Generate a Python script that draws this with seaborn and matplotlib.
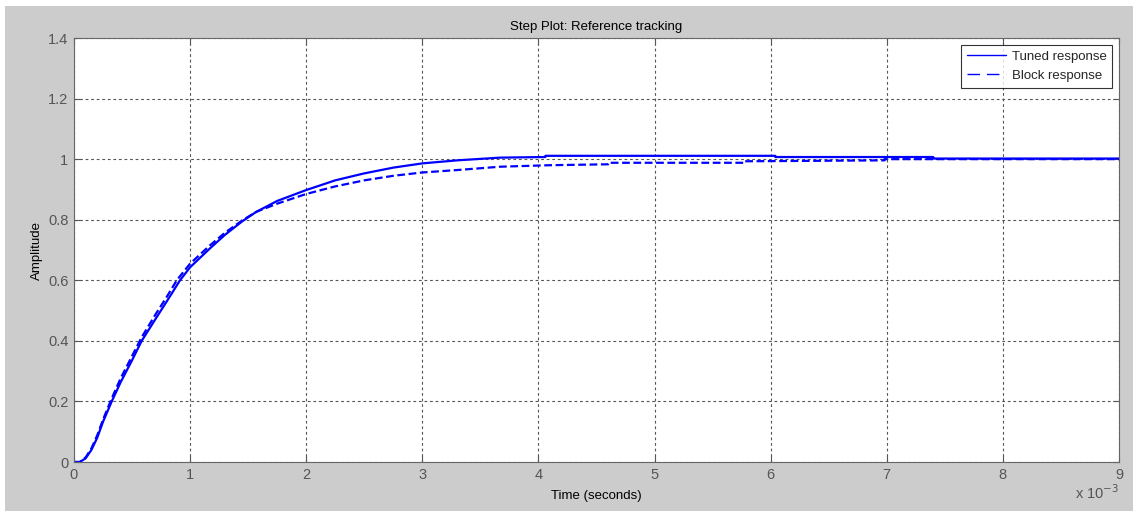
import pandas as pd
import matplotlib.pyplot as plt
import seaborn as sns
from matplotlib.patches import Rectangle

# time in units of 1e-3 s
tuned_t = [0, 0.05, 0.1, 0.15, 0.2, 0.25, 0.325, 0.4, 0.5, 0.583, 0.7, 0.8, 0.913, 1.0,
           1.17, 1.3, 1.45, 1.57, 1.75, 2.0, 2.25, 2.5, 2.75, 3.0, 3.3, 3.67, 4.06, 4.06,
           6.04, 6.04, 7.4, 7.4, 9.0]
tuned_y = [0, 0.0, 0.012, 0.04, 0.08, 0.133, 0.2, 0.262, 0.336, 0.4, 0.471, 0.531, 0.6, 0.643,
           0.705, 0.75, 0.795, 0.826, 0.862, 0.898, 0.93, 0.953, 0.972, 0.986, 0.996, 1.005, 1.007, 1.011,
           1.011, 1.007, 1.007, 1.002, 1.002]

block_t = [0, 0.05, 0.1, 0.15, 0.2, 0.25, 0.325, 0.4, 0.5, 0.583, 0.7, 0.8, 0.885, 1.0,
           1.17, 1.3, 1.45, 1.57, 1.75, 2.0, 2.25, 2.5, 2.75, 3.0, 3.3, 3.67, 4.1, 4.6, 4.6,
           5.78, 5.78, 6.98, 6.98, 9.0]
block_y = [0, 0.0, 0.015, 0.045, 0.088, 0.14, 0.21, 0.275, 0.35, 0.412, 0.486, 0.546, 0.6, 0.655,
           0.715, 0.757, 0.798, 0.826, 0.853, 0.885, 0.91, 0.93, 0.945, 0.956, 0.964, 0.975, 0.98, 0.983, 0.988,
           0.988, 0.993, 0.996, 1.0, 1.0]

x_ticks = [0, 1, 2, 3, 4, 5, 6, 7, 8, 9]
y_ticks = [0, 0.2, 0.4, 0.6, 0.8, 1.0, 1.2, 1.4]
y_labels = ['0', '0.2', '0.4', '0.6', '0.8', '1', '1.2', '1.4']

sns.set_theme(style="white")
plt.rcParams['font.family'] = ['Liberation Sans', 'DejaVu Sans']

fig = plt.figure(figsize=(11.33, 5.11), dpi=100)
fig.patch.set_facecolor('#cccccc')
fig.patches.append(Rectangle((0, 1 - 6 / 511), 1, 6 / 511, transform=fig.transFigure,
                             facecolor='white', edgecolor='none'))
fig.patches.append(Rectangle((0, 0), 5 / 1133, 1, transform=fig.transFigure,
                             facecolor='white', edgecolor='none'))

ax = fig.add_axes([74 / 1133, 49 / 511, 1045 / 1133, 424 / 511])
ax.set_facecolor('white')

tuned = pd.DataFrame({'t': tuned_t, 'y': tuned_y})
block = pd.DataFrame({'t': block_t, 'y': block_y})

sns.lineplot(x='t', y='y', data=tuned, ax=ax, color='#0000ff', linewidth=1.6,
             estimator=None, sort=False, label='Tuned response')
sns.lineplot(x='t', y='y', data=block, ax=ax, color='#0000ff', linewidth=1.6,
             estimator=None, sort=False, label='Block response')
ax.lines[-1].set_dashes((3.5, 1.6))

ax.set_xlim(0, 9)
ax.set_ylim(0, 1.4)
ax.set_xticks(x_ticks)
ax.set_xticklabels([str(v) for v in x_ticks])
ax.set_yticks(y_ticks)
ax.set_yticklabels(y_labels)
ax.grid(True, color='#555555', linestyle=(0, (2.5, 2.5)), linewidth=0.8)
ax.tick_params(direction='in', length=4, width=0.8, colors='#555555', labelsize=10.5,
               top=True, right=True, bottom=True, left=True, labelcolor='#555555', pad=4)
for s in ax.spines.values():
    s.set_color('#666666')
    s.set_linewidth(0.8)

ax.set_title('Step Plot: Reference tracking', fontsize=9.5, color='black', pad=6)
ax.set_xlabel('Time (seconds)', fontsize=9.5, color='black', labelpad=6)
ax.set_ylabel('Amplitude', fontsize=9.5, color='black', labelpad=4)
fig.text(1119 / 1133, 9 / 511, r'x 10$^{-3}$', ha='right', va='bottom', fontsize=10.5, color='#555555')

leg = ax.legend(loc='upper right', fontsize=9.5, frameon=True, fancybox=False,
                handlelength=3.0, borderaxespad=0.5, borderpad=0.45, labelspacing=0.5,
                handletextpad=0.4)
leg.get_frame().set_edgecolor('black')
leg.get_frame().set_linewidth(0.8)
for h in leg.get_lines():
    h.set_linewidth(1.0)
leg.get_lines()[1].set_dashes((9, 5))

fig.savefig('out.png', dpi=100, facecolor=fig.get_facecolor())
